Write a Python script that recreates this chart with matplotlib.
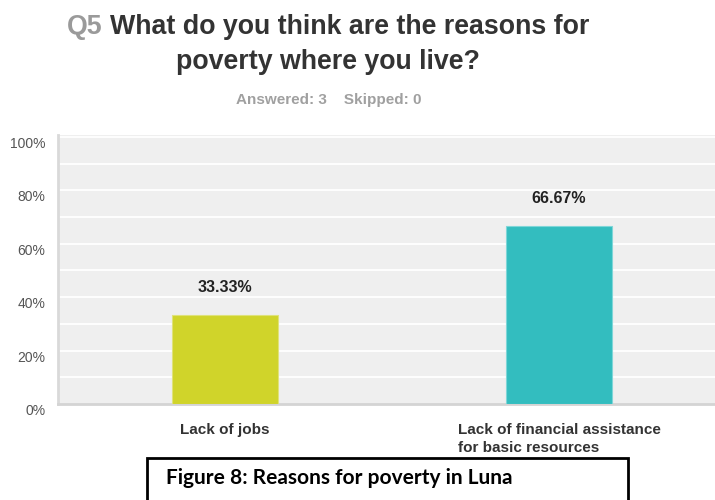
import matplotlib
matplotlib.use("Agg")
import matplotlib.pyplot as plt
from matplotlib.text import Annotation
from matplotlib.patches import Rectangle

# survey answers for Q5
categories = ["Lack of jobs", "Lack of financial assistance\nfor basic resources"]
shares = [33.33, 66.67]
bar_colors = ["#d0d42a", "#33bdbf"]
y_ticks = [0, 20, 40, 60, 80, 100]

plain = ["Liberation Sans", "DejaVu Sans"]

fig = plt.figure(figsize=(7.15, 5.0), dpi=100)
fig.patch.set_facecolor("white")

W, H = 715, 500
left, right, top, bottom = 58, 726, 135, 404
ax = fig.add_axes([left / W, 1 - bottom / H, (right - left) / W, (bottom - top) / H])
ax.set_facecolor("#efefef")

x = list(range(len(categories)))
ax.bar(x, shares, width=0.32, color=bar_colors, edgecolor=["#dfe27a", "#7fd6d8"],
       linewidth=0.8, zorder=3)
for xi, v in zip(x, shares):
    ax.annotate(f"{v:.2f}%", (xi, v), xytext=(0, 20), textcoords="offset points",
                ha="center", va="center", fontsize=11.5, fontweight="bold",
                color="#222222", family=plain)

ax.set_xlim(-0.5, len(categories) - 0.5)
ax.set_ylim(0, 100.7)
ax.set_yticks(y_ticks)
# percent labels hang just below their gridline
ax.set_yticklabels([f"{t}%" for t in y_ticks], family=plain, fontsize=10,
                   color="#555555", va="top")
for g in range(10, 101, 10):
    ax.axhline(g, color="white", linewidth=1.3, zorder=1)

ax.set_xticks(x)
ax.set_xticklabels(categories, family=plain, fontsize=11, fontweight="bold",
                   color="#333333", multialignment="left", va="top", linespacing=1.3)
ax.tick_params(axis="both", length=0)
ax.tick_params(axis="y", pad=9)
ax.tick_params(axis="x", pad=14)

for side in ["top", "right"]:
    ax.spines[side].set_visible(False)
ax.spines["left"].set_color("#d9d9d9")
ax.spines["left"].set_linewidth(2)
ax.spines["bottom"].set_color("#d4d4d4")
ax.spines["bottom"].set_linewidth(2)

# question heading: grey number, then the question itself
q5 = fig.text(67 / W, 1 - 27 / H, "Q5", fontsize=19.3, fontweight="bold", color="#9a9a9a",
              family=plain, va="center", ha="left")
question = Annotation("What do you think are the reasons for", xy=(1, 0.5), xycoords=q5,
                      xytext=(5, 0), textcoords="offset points", fontsize=19.3,
                      fontweight="bold", color="#333333", family=plain,
                      va="center", ha="left")
fig.add_artist(question)
fig.text(328 / W, 1 - 62 / H, "poverty where you live?", fontsize=19.3, fontweight="bold",
         color="#333333", family=plain, va="center", ha="center")
fig.text(329 / W, 1 - 100 / H, "Answered: 3    Skipped: 0", fontsize=11, fontweight="bold",
         color="#a0a0a0", family=plain, va="center", ha="center")

# caption box
fig.add_artist(Rectangle((147 / W, -0.05), (628 - 147) / W, 0.05 + (1 - 458 / H),
                         transform=fig.transFigure, fill=False, edgecolor="black",
                         linewidth=2))
fig.text(166 / W, 1 - 478 / H, "Figure 8: Reasons for poverty in Luna", fontsize=15,
         fontweight="bold", color="black", family=["Lato", "DejaVu Sans"],
         va="center", ha="left")

fig.savefig("out.png", dpi=100)
